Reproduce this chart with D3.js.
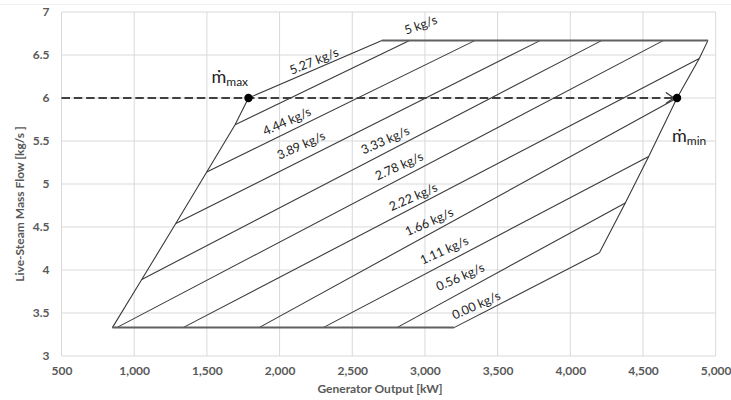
<!DOCTYPE html>
<html>
<head>
<meta charset="utf-8">
<script src="https://cdn.jsdelivr.net/npm/d3@7"></script>
<style>
  html, body { margin: 0; padding: 0; background: #fff; }
  svg { display: block; }
</style>
</head>
<body>
<svg id="chart" width="731" height="400"></svg>
<script>
// ---- data ----
const xTicks = [500, 1000, 1500, 2000, 2500, 3000, 3500, 4000, 4500, 5000];
const yTicks = [3, 3.5, 4, 4.5, 5, 5.5, 6, 6.5, 7];

// envelope of the operating map (kW, kg/s)
const leftEdge   = [[850, 3.33], [1052, 3.89], [1286, 4.54], [1499, 5.14], [1694, 5.69], [1786, 6.0]];
const rightEdge  = [[4947, 6.67], [4887, 6.46], [4734, 6.0], [4539, 5.32], [4378, 4.78], [4200, 4.2]];
const topEdge    = [[2704, 6.67], [4947, 6.67]];
const bottomEdge = [[850, 3.33], [3200, 3.33]];

// iso-extraction lines: [x1, y1, x2, y2]
const isoLines = [
  [1786, 6.0, 2704, 6.67],
  [1694, 5.69, 2894, 6.67],
  [1499, 5.14, 3346, 6.67],
  [1286, 4.54, 3795, 6.67],
  [1052, 3.89, 4218, 6.67],
  [880, 3.33, 4642, 6.67],
  [1336, 3.33, 4887, 6.46],
  [1859, 3.33, 4734, 6.0],
  [2300, 3.33, 4539, 5.32],
  [2807, 3.33, 4378, 4.78],
  [3200, 3.33, 4200, 4.2]
];

const isoLabelText = ["5 kg/s", "5.27 kg/s", "4.44 kg/s", "3.89 kg/s", "3.33 kg/s", "2.78 kg/s",
                      "2.22 kg/s", "1.66 kg/s", "1.11 kg/s", "0.56 kg/s", "0.00 kg/s"];
const isoLabelX = [2970, 2237, 2050, 2148, 2726, 2822, 2919, 3029, 3132, 3242, 3352];
const isoLabelY = [6.85, 6.43, 5.73, 5.45, 5.51, 5.21, 4.85, 4.56, 4.23, 3.92, 3.59];
const isoLabelAngle = [-20, -22, -24, -24, -24, -24, -24, -24, -24, -24, -24];

const mMax = [1786, 6.0];
const mMin = [4734, 6.0];
const dashStart = [500, 6.0];
const dashEnd = [4712, 6.0];

// ---- drawing ----
const svg = d3.select("#chart");
const x = d3.scaleLinear().domain([500, 5000]).range([61.5, 715.7]);
const y = d3.scaleLinear().domain([3, 7]).range([356, 12]);

const font = "Lato, 'Open Sans', 'Noto Sans', sans-serif";
const gridCol = "#d9d9d9";
const lineCol = "#3a3a3a";

// faint chart border (top)
svg.append("line").attr("x1", 0).attr("x2", 731).attr("y1", 4.5).attr("y2", 4.5)
  .attr("stroke", "#efefef").attr("stroke-width", 1);

// grid
const g = svg.append("g");
g.selectAll(".vg").data(xTicks).join("line")
  .attr("x1", d => x(d)).attr("x2", d => x(d))
  .attr("y1", y(3)).attr("y2", y(7))
  .attr("stroke", gridCol).attr("stroke-width", 1);
g.selectAll(".hg").data(yTicks).join("line")
  .attr("x1", x(500)).attr("x2", x(5000))
  .attr("y1", d => y(d)).attr("y2", d => y(d))
  .attr("stroke", gridCol).attr("stroke-width", 1);

// axes (labels only)
const fmt = d3.format(",");
const xAxis = d3.axisBottom(x).tickValues(xTicks).tickFormat(fmt).tickSize(0).tickPadding(8);
const xa = svg.append("g").attr("transform", `translate(0,${y(3)})`).call(xAxis);
xa.select(".domain").remove();
xa.selectAll("text").attr("font-family", font).attr("font-size", 12).attr("font-weight", 700)
  .attr("fill", "#595959").attr("dy", "0.9em");

const yAxis = d3.axisLeft(y).tickValues(yTicks).tickFormat(d => d).tickSize(0).tickPadding(12);
const ya = svg.append("g").attr("transform", `translate(${x(500)},0)`).call(yAxis);
ya.select(".domain").remove();
ya.selectAll("text").attr("font-family", font).attr("font-size", 12).attr("font-weight", 700)
  .attr("fill", "#595959");

// axis titles
svg.append("text").attr("x", 380).attr("y", 393).attr("text-anchor", "middle")
  .attr("font-family", font).attr("font-size", 12).attr("font-weight", 700).attr("fill", "#595959")
  .text("Generator Output [kW]");
svg.append("text").attr("transform", "translate(24,204) rotate(-90)").attr("text-anchor", "middle")
  .attr("font-family", font).attr("font-size", 12).attr("font-weight", 700).attr("fill", "#595959")
  .text("Live-Steam Mass Flow [kg/s ]");

// envelope and iso lines
const line = d3.line().x(d => x(d[0])).y(d => y(d[1]));
const marks = svg.append("g").attr("fill", "none");
marks.selectAll(".iso").data(isoLines).join("line")
  .attr("x1", d => x(d[0])).attr("y1", d => y(d[1]))
  .attr("x2", d => x(d[2])).attr("y2", d => y(d[3]))
  .attr("stroke", lineCol).attr("stroke-width", 1.1);
[leftEdge, rightEdge].forEach(e => {
  marks.append("path").attr("d", line(e)).attr("stroke", lineCol).attr("stroke-width", 1.1);
});
[topEdge, bottomEdge].forEach(e => {
  marks.append("path").attr("d", line(e)).attr("stroke", "#606060").attr("stroke-width", 2);
});

// labels
svg.append("g").selectAll("text").data(isoLabelText).join("text")
  .attr("transform", (d, i) => `translate(${x(isoLabelX[i])},${y(isoLabelY[i])}) rotate(${isoLabelAngle[i]})`)
  .attr("text-anchor", "middle").attr("dy", "0.35em")
  .attr("font-family", font).attr("font-size", 12.5).attr("fill", "#222")
  .text(d => d);

// dashed arrow
const defs = svg.append("defs");
defs.append("marker").attr("id", "arr").attr("viewBox", "0 0 10 12")
  .attr("refX", 9).attr("refY", 6).attr("markerWidth", 10).attr("markerHeight", 12)
  .attr("markerUnits", "userSpaceOnUse").attr("orient", "auto")
  .append("path").attr("d", "M1,0.5 L9,6 L1,11.5").attr("fill", "none")
  .attr("stroke", "#404040").attr("stroke-width", 1.4);
svg.append("line")
  .attr("x1", x(dashStart[0])).attr("y1", y(dashStart[1]))
  .attr("x2", x(dashEnd[0])).attr("y2", y(dashEnd[1]))
  .attr("stroke", "#404040").attr("stroke-width", 2).attr("stroke-dasharray", "8.5,3.8")
  .attr("marker-end", "url(#arr)");

// points
svg.selectAll(".pt").data([mMax, mMin]).join("circle")
  .attr("cx", d => x(d[0])).attr("cy", d => y(d[1])).attr("r", 4.2).attr("fill", "#000");

// point labels
function mLabel(px, py, sub) {
  const t = svg.append("text").attr("x", px).attr("y", py)
    .attr("font-family", font).attr("fill", "#222");
  t.append("tspan").attr("font-size", 18).text("ṁ");
  t.append("tspan").attr("font-size", 12).attr("dy", 3).text(sub);
}
mLabel(x(mMax[0]) - 37, y(mMax[1]) - 15, "max");
mLabel(x(mMin[0]) - 5, y(mMin[1]) + 44, "min");
</script>
</body>
</html>
